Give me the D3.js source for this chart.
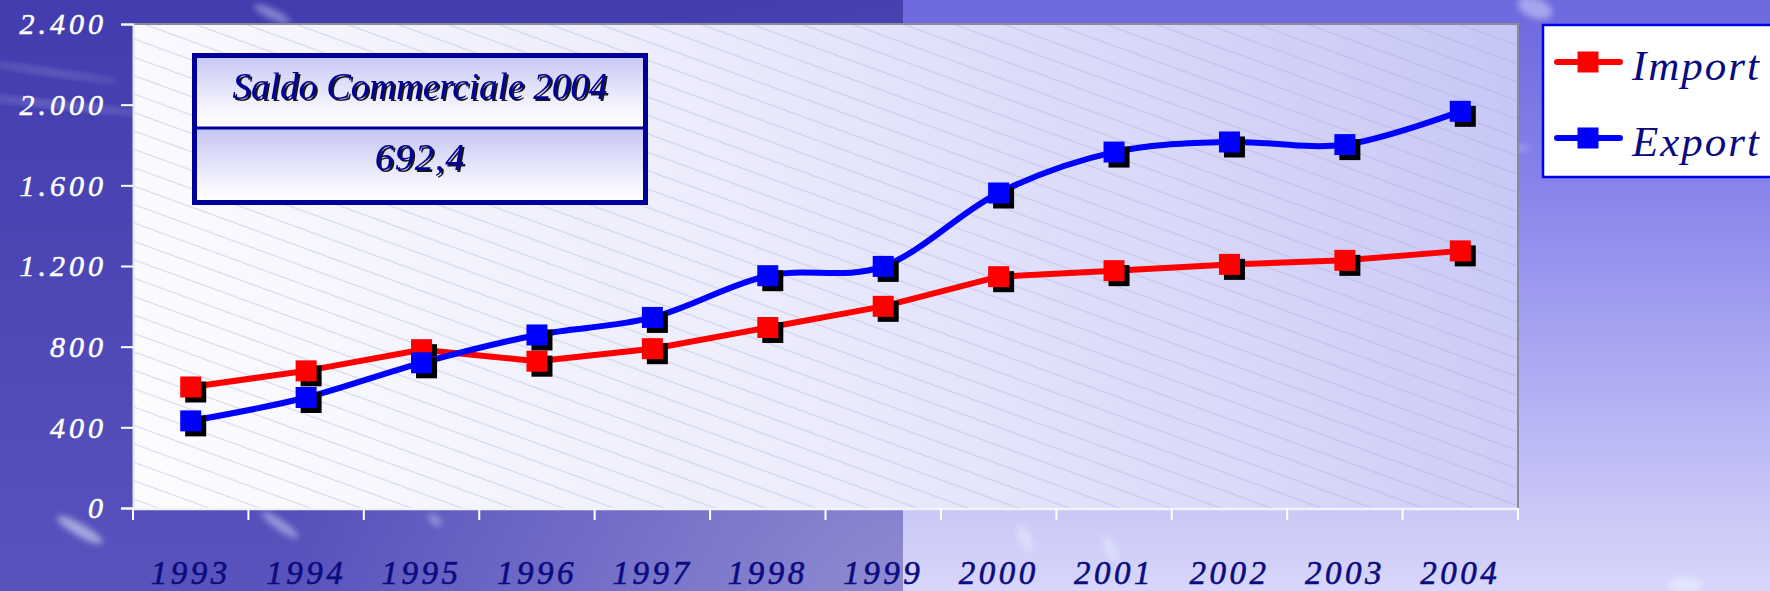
<!DOCTYPE html>
<html>
<head>
<meta charset="utf-8">
<script src="https://cdn.jsdelivr.net/npm/d3@7/dist/d3.min.js"></script>
<style>
  html, body { margin: 0; padding: 0; background: #5a56c0; }
  svg { display: block; }
</style>
</head>
<body>
<svg id="chart" width="1770" height="591"></svg>
<script>
// ---------- data ----------
const years = ["1993","1994","1995","1996","1997","1998","1999","2000","2001","2002","2003","2004"];
const importValues = [600, 680, 785, 728, 790, 895, 1000, 1147, 1177, 1208, 1228, 1275];
const exportValues = [432, 548, 720, 858, 945, 1152, 1198, 1562, 1765, 1815, 1802, 1967];
const yTickValues = [0, 400, 800, 1200, 1600, 2000, 2400];
const yTickLabels = ["0", "400", "800", "1.200", "1.600", "2.000", "2.400"];
const seriesNames = ["Import", "Export"];
const boxTitle = "Saldo Commerciale 2004";
const boxValue = "692,4";

// ---------- setup ----------
const W = 1770, H = 591, SPLIT = 903;
const svg = d3.select("#chart");
const defs = svg.append("defs");

const plot = { left: 133, right: 1518, top: 24, bottom: 508 };
const x = d3.scaleBand().domain(years).range([plot.left, plot.right]).padding(0);
const y = d3.scaleLinear().domain([0, 2400]).range([plot.bottom, plot.top]);
const cx = d => x(d) + x.bandwidth() / 2;

// ---------- background ----------
const gLeft = defs.append("linearGradient").attr("id", "bgLeft").attr("x1", 0).attr("y1", 0).attr("x2", 0).attr("y2", 1);
gLeft.append("stop").attr("offset", 0).attr("stop-color", "#423cae");
gLeft.append("stop").attr("offset", 1).attr("stop-color", "#5853bd");
const gLeftGlow = defs.append("radialGradient").attr("id", "bgLeftGlow")
  .attr("gradientUnits", "userSpaceOnUse").attr("cx", SPLIT).attr("cy", 591).attr("r", 620);
gLeftGlow.append("stop").attr("offset", 0).attr("stop-color", "#ffffff").attr("stop-opacity", 0.33);
gLeftGlow.append("stop").attr("offset", 1).attr("stop-color", "#ffffff").attr("stop-opacity", 0);

const gRight = defs.append("linearGradient").attr("id", "bgRight").attr("x1", 0).attr("y1", 0).attr("x2", 0).attr("y2", 1);
gRight.append("stop").attr("offset", 0).attr("stop-color", "#6c68de");
gRight.append("stop").attr("offset", 0.3).attr("stop-color", "#8682ea");
gRight.append("stop").attr("offset", 0.6).attr("stop-color", "#aaa8f2");
gRight.append("stop").attr("offset", 0.85).attr("stop-color", "#c8c6f6");
gRight.append("stop").attr("offset", 1).attr("stop-color", "#d8d6fa");

svg.append("rect").attr("x", 0).attr("y", 0).attr("width", SPLIT).attr("height", H).attr("fill", "url(#bgLeft)");
svg.append("rect").attr("x", 0).attr("y", 0).attr("width", SPLIT).attr("height", H).attr("fill", "url(#bgLeftGlow)");
svg.append("rect").attr("x", SPLIT).attr("y", 0).attr("width", W - SPLIT).attr("height", H).attr("fill", "url(#bgRight)");

// decorative light streaks
const blur = defs.append("filter").attr("id", "blur").attr("x", "-50%").attr("y", "-50%").attr("width", "200%").attr("height", "200%");
blur.append("feGaussianBlur").attr("stdDeviation", 3);
const streaks = [
  [80, 530, 26, 6, 30, 0.55], [280, 525, 22, 5, 35, 0.45], [435, 520, 8, 4, 45, 0.4],
  [272, 14, 20, 5, 25, 0.4], [60, 105, 90, 3, 6, 0.25], [50, 72, 70, 3, 8, 0.2],
  [1025, 538, 6, 14, -25, 0.5], [1110, 548, 5, 14, -25, 0.5], [1535, 8, 18, 10, 20, 0.45],
  [1685, 585, 18, 8, 0, 0.6], [1510, 148, 20, 3, 0, 0.35]
];
svg.append("g").selectAll("ellipse").data(streaks).join("ellipse")
  .attr("cx", d => d[0]).attr("cy", d => d[1]).attr("rx", d => d[2]).attr("ry", d => d[3])
  .attr("transform", d => `rotate(${d[4]},${d[0]},${d[1]})`)
  .attr("fill", "#e8f0ff").attr("opacity", d => d[5]).attr("filter", "url(#blur)");

// ---------- plot area ----------
const gPlot = defs.append("linearGradient").attr("id", "plotFill")
  .attr("gradientUnits", "userSpaceOnUse")
  .attr("x1", plot.left).attr("y1", plot.bottom).attr("x2", plot.right).attr("y2", plot.top);
gPlot.append("stop").attr("offset", 0).attr("stop-color", "#fdfdff");
gPlot.append("stop").attr("offset", 0.45).attr("stop-color", "#ececfc");
gPlot.append("stop").attr("offset", 1).attr("stop-color", "#c6c6f6");

const hatch = defs.append("pattern").attr("id", "hatch").attr("patternUnits", "userSpaceOnUse")
  .attr("width", 40).attr("height", 17.3).attr("patternTransform", "rotate(20)");
hatch.append("line").attr("x1", 0).attr("x2", 40).attr("y1", 8).attr("y2", 8)
  .attr("stroke", "#a6a6d0").attr("stroke-width", 0.9).attr("stroke-opacity", 0.5);

svg.append("rect").attr("x", plot.left).attr("y", plot.top)
  .attr("width", plot.right - plot.left).attr("height", plot.bottom - plot.top).attr("fill", "url(#plotFill)");
svg.append("rect").attr("x", plot.left).attr("y", plot.top)
  .attr("width", plot.right - plot.left).attr("height", plot.bottom - plot.top).attr("fill", "url(#hatch)");

// top and right border (gray)
svg.append("path")
  .attr("d", `M${plot.left},${plot.top}H${plot.right}V${plot.bottom}`)
  .attr("fill", "none").attr("stroke", "#8a8a9a").attr("stroke-width", 2);

// ---------- axes ----------
const yAxis = svg.append("g").attr("transform", `translate(${plot.left},0)`)
  .call(d3.axisLeft(y).tickValues(yTickValues).tickSize(12).tickPadding(14)
    .tickFormat((d, i) => yTickLabels[i]));
yAxis.select(".domain").attr("stroke", "#e6e6f0").attr("stroke-width", 2);
yAxis.selectAll(".tick line").attr("stroke", "#ffffff").attr("stroke-width", 2);
yAxis.selectAll(".tick text")
  .attr("fill", "#ffffff").attr("stroke", "#ffffff").attr("stroke-width", 0.5)
  .attr("font-family", "'Liberation Serif', serif").attr("font-style", "italic")
  .attr("font-size", 30).attr("letter-spacing", 4).attr("dy", "0.33em");

const xAxis = svg.append("g").attr("transform", `translate(0,${plot.bottom})`)
  .call(d3.axisBottom(x).tickSize(0));
xAxis.select(".domain").remove();
xAxis.selectAll(".tick text")
  .attr("fill", "#0c0c80").attr("stroke", "#0c0c80").attr("stroke-width", 0.6)
  .attr("font-family", "'Liberation Serif', serif").attr("font-style", "italic")
  .attr("font-size", 33).attr("letter-spacing", 3.5).attr("y", 76).attr("dy", 0);

// x axis line and boundary ticks
const bounds = years.map(d => x(d)).concat([x.range()[1]]);
svg.append("line").attr("x1", plot.left).attr("x2", plot.right).attr("y1", plot.bottom + 1).attr("y2", plot.bottom + 1)
  .attr("stroke", "#f2f2f8").attr("stroke-width", 2.5);
svg.append("g").selectAll("line").data(bounds).join("line")
  .attr("x1", d => d).attr("x2", d => d).attr("y1", plot.bottom).attr("y2", plot.bottom + 12)
  .attr("stroke", "#ffffff").attr("stroke-width", 2);

// ---------- series ----------
const series = [
  { name: seriesNames[0], values: importValues, color: "#ff0000", curve: d3.curveLinear },
  { name: seriesNames[1], values: exportValues, color: "#0000ff", curve: d3.curveCatmullRom.alpha(0) }
];
const mk = 21, sh = 5;
series.forEach(s => {
  const pts = years.map((yr, i) => [cx(yr), y(s.values[i])]);
  const line = d3.line().curve(s.curve);
  svg.append("path").attr("d", line(pts)).attr("fill", "none")
    .attr("stroke", s.color).attr("stroke-width", 6).attr("stroke-linejoin", "round").attr("stroke-linecap", "round");
  const g = svg.append("g");
  g.selectAll("rect.sh").data(pts).join("rect").attr("class", "sh")
    .attr("x", d => d[0] - mk / 2 + sh).attr("y", d => d[1] - mk / 2 + sh)
    .attr("width", mk).attr("height", mk).attr("fill", "#000000");
  g.selectAll("rect.mk").data(pts).join("rect").attr("class", "mk")
    .attr("x", d => d[0] - mk / 2).attr("y", d => d[1] - mk / 2)
    .attr("width", mk).attr("height", mk).attr("fill", s.color);
});

// ---------- info box ----------
const cellGrad = defs.append("linearGradient").attr("id", "cellGrad").attr("x1", 0).attr("y1", 0).attr("x2", 0).attr("y2", 1);
cellGrad.append("stop").attr("offset", 0).attr("stop-color", "#c4c4f4");
cellGrad.append("stop").attr("offset", 0.75).attr("stop-color", "#f6f6fe");
cellGrad.append("stop").attr("offset", 1).attr("stop-color", "#ffffff");

const box = { x: 192, y: 53, w: 456, h: 152, mid: 128 };
svg.append("rect").attr("x", box.x).attr("y", box.y).attr("width", box.w).attr("height", box.mid - box.y).attr("fill", "url(#cellGrad)");
svg.append("rect").attr("x", box.x).attr("y", box.mid).attr("width", box.w).attr("height", box.y + box.h - box.mid).attr("fill", "url(#cellGrad)");
svg.append("line").attr("x1", box.x).attr("x2", box.x + box.w).attr("y1", box.mid).attr("y2", box.mid)
  .attr("stroke", "#000099").attr("stroke-width", 3);
svg.append("rect").attr("x", box.x + 2.5).attr("y", box.y + 2.5).attr("width", box.w - 5).attr("height", box.h - 5)
  .attr("fill", "none").attr("stroke", "#000099").attr("stroke-width", 5);

const shadowF = defs.append("filter").attr("id", "txtShadow");
shadowF.append("feDropShadow").attr("dx", 2).attr("dy", 2).attr("stdDeviation", 0.3).attr("flood-color", "#000000").attr("flood-opacity", 0.9);

svg.append("text").attr("x", box.x + box.w / 2).attr("y", 99).attr("text-anchor", "middle")
  .attr("font-family", "'Liberation Serif', serif").attr("font-style", "italic").attr("font-size", 37)
  .attr("fill", "#000099").attr("filter", "url(#txtShadow)").text(boxTitle);
svg.append("text").attr("x", box.x + box.w / 2).attr("y", 170).attr("text-anchor", "middle")
  .attr("font-family", "'Liberation Serif', serif").attr("font-style", "italic").attr("font-size", 38)
  .attr("letter-spacing", 1).attr("fill", "#000099").attr("filter", "url(#txtShadow)").text(boxValue);

// ---------- legend ----------
const lg = svg.append("g");
lg.append("rect").attr("x", 1543).attr("y", 25).attr("width", 240).attr("height", 152)
  .attr("fill", "#ffffff").attr("stroke", "#0000ee").attr("stroke-width", 2.5);
const legendY = [62, 138];
series.forEach((s, i) => {
  const ly = legendY[i];
  lg.append("line").attr("x1", 1557).attr("x2", 1620).attr("y1", ly).attr("y2", ly)
    .attr("stroke", s.color).attr("stroke-width", 6).attr("stroke-linecap", "round");
  lg.append("rect").attr("x", 1588 - 10.5).attr("y", ly - 10.5).attr("width", 21).attr("height", 21).attr("fill", s.color);
  lg.append("text").attr("x", 1632).attr("y", ly + 18)
    .attr("font-family", "'Liberation Serif', serif").attr("font-style", "italic").attr("font-size", 43)
    .attr("letter-spacing", 2).attr("fill", "#0a0a80").text(s.name);
});
</script>
</body>
</html>
